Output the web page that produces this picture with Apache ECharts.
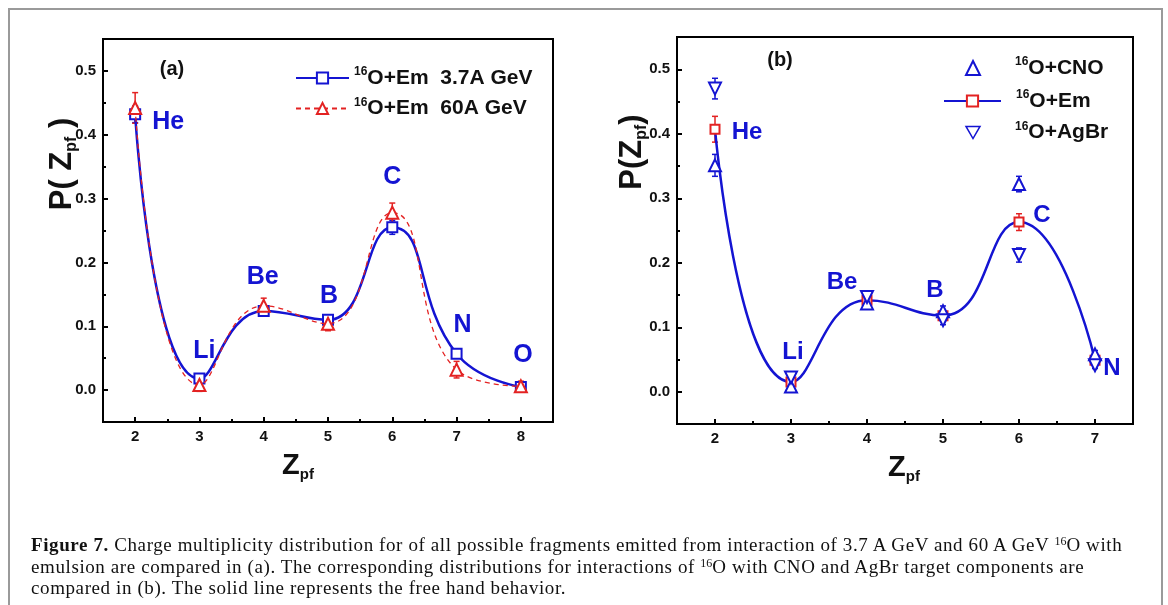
<!DOCTYPE html>
<html>
<head>
<meta charset="utf-8">
<script src="https://cdn.jsdelivr.net/npm/echarts@6/dist/echarts.min.js"></script>
<style>
html, body { margin: 0; padding: 0; background: #fff; }
#wrap { position: relative; width: 1168px; height: 605px; overflow: hidden; }
#frame { position: absolute; left: 8px; top: 8px; width: 1155px; height: 640px; border: 2px solid #9a9a9a; box-sizing: border-box; }
#chart { position: absolute; left: 0; top: 0; width: 1168px; height: 605px; }
#caption { position: absolute; left: 31px; top: 534px; font-family: "Liberation Serif", serif; font-size: 19px; letter-spacing: 0.6px; line-height: 21.5px; color: #111; white-space: nowrap; }
#caption sup { font-size: 12px; vertical-align: 6px; line-height: 0; letter-spacing: 0; }
</style>
</head>
<body>
<div id="wrap">
  <div id="frame"></div>
  <div id="chart"></div>
  <div id="caption"><b>Figure 7.</b> Charge multiplicity distribution for of all possible fragments emitted from interaction of 3.7 A GeV and 60 A GeV <sup>16</sup>O with<br>emulsion are compared in (a). The corresponding distributions for interactions of <sup>16</sup>O with CNO and AgBr target components are<br>compared in (b). The solid line represents the free hand behavior.</div>
</div>
<script>
// panel (a): 16O+Em at two energies
var zA = [2, 3, 4, 5, 6, 7, 8];
var em37 = [0.432, 0.018, 0.124, 0.110, 0.255, 0.057, 0.005];
var em37Err = [0.013, 0.005, 0.008, 0.007, 0.011, 0.003, 0.003];
var em60 = [0.442, 0.008, 0.132, 0.104, 0.278, 0.032, 0.006];
var em60Err = [0.024, 0.010, 0.012, 0.011, 0.015, 0.013, 0.008];
var elemA = ['He', 'Li', 'Be', 'B', 'C', 'N', 'O'];

// panel (b): 16O on CNO, Em, AgBr
var zB = [2, 3, 4, 5, 6, 7];
var cno = [0.351, 0.008, 0.137, 0.125, 0.322, 0.058];
var cnoErr = [0.017, 0.006, 0.007, 0.008, 0.012, 0.006];
var emB = [0.407, 0.015, 0.142, 0.118, 0.263, 0.049];
var emBErr = [0.020, 0.006, 0.006, 0.006, 0.013, 0.004];
var agbr = [0.470, 0.022, 0.147, 0.111, 0.212, 0.041];
var agbrErr = [0.016, 0.006, 0.007, 0.007, 0.011, 0.005];
var elemB = ['He', 'Li', 'Be', 'B', 'C', 'N'];

var yTicks = [0, 0.1, 0.2, 0.3, 0.4, 0.5];
var yMinor = [0.05, 0.15, 0.25, 0.35, 0.45];
var xTicksA = [2, 3, 4, 5, 6, 7, 8];
var xMinorA = [2.5, 3.5, 4.5, 5.5, 6.5, 7.5];
var xTicksB = [2, 3, 4, 5, 6, 7];
var xMinorB = [2.5, 3.5, 4.5, 5.5, 6.5];

var BLUE = '#1414d2';
var RED = '#e32222';
var FONT = '"Liberation Sans", Arial, sans-serif';

function pts(xs, ys) {
    return xs.map(function (x, i) { return [x, ys[i]]; });
}
function errs(xs, ys, es) {
    return xs.map(function (x, i) { return [x, ys[i] - es[i], ys[i] + es[i]]; });
}
function errRender(color) {
    return function (params, api) {
        var x = api.value(0);
        var top = api.coord([x, api.value(2)]);
        var bot = api.coord([x, api.value(1)]);
        var st = { stroke: color, lineWidth: 1.5 };
        return {
            type: 'group',
            children: [
                { type: 'line', shape: { x1: top[0], y1: top[1], x2: bot[0], y2: bot[1] }, style: st },
                { type: 'line', shape: { x1: top[0] - 3, y1: top[1], x2: top[0] + 3, y2: top[1] }, style: st },
                { type: 'line', shape: { x1: bot[0] - 3, y1: bot[1], x2: bot[0] + 3, y2: bot[1] }, style: st }
            ]
        };
    };
}
function errSeries(xi, xs, ys, es, color) {
    return {
        type: 'custom', xAxisIndex: xi, yAxisIndex: xi, z: 2, silent: true,
        renderItem: errRender(color),
        encode: { x: 0, y: [1, 2] },
        data: errs(xs, ys, es)
    };
}
function labelSeries(xi, xs, ys, names, offsets, size) {
    return {
        type: 'scatter', xAxisIndex: xi, yAxisIndex: xi, z: 6, silent: true,
        symbolSize: 1, itemStyle: { color: 'rgba(0,0,0,0)', opacity: 1 },
        label: { show: true, position: 'inside', formatter: '{b}', color: BLUE, fontFamily: FONT, fontWeight: 'bold', fontSize: size, opacity: 1 },
        data: xs.map(function (x, i) {
            return { name: names[i], value: [x, ys[i]], label: { offset: offsets[i] } };
        })
    };
}
function axesPair(grid, pos, min, max, ticks, minor, labels) {
    var main = {
        type: 'value', gridIndex: grid, position: pos, min: min, max: max,
        axisLine: { show: false, onZero: false }, splitLine: { show: false },
        axisTick: { show: true, inside: true, length: 5, customValues: ticks, lineStyle: { color: '#000', width: 2 } },
        axisLabel: {
            show: true, customValues: ticks, margin: 7,
            color: '#111', fontFamily: FONT, fontWeight: 'bold', fontSize: 15,
            formatter: labels
        }
    };
    var sub = {
        type: 'value', gridIndex: grid, position: pos, min: min, max: max,
        axisLine: { show: false, onZero: false }, splitLine: { show: false }, axisLabel: { show: false },
        axisTick: { show: true, inside: true, length: 3, customValues: minor, lineStyle: { color: '#000', width: 2 } }
    };
    return [main, sub];
}
var fmtY = function (v) { return v.toFixed(1); };
var fmtX = function (v) { return String(v); };

function legendRich(pad) {
    return {
        sup: { fontFamily: FONT, fontWeight: 'bold', fontSize: 12, color: '#111', verticalAlign: 'top', lineHeight: 12, padding: [0, 0, 0, pad] },
        t: { fontFamily: FONT, fontWeight: 'bold', fontSize: 21, color: '#111', lineHeight: 24 }
    };
}
var legendFmt = function (name) { return '{sup|16}{t|' + name + '}'; };

var xAxes = axesPair(0, 'bottom', 1.5, 8.5, xTicksA, xMinorA, fmtX)
    .concat(axesPair(1, 'bottom', 1.5, 7.5, xTicksB, xMinorB, fmtX));
var yAxes = axesPair(0, 'left', -0.05, 0.55, yTicks, yMinor, fmtY)
    .concat(axesPair(1, 'left', -0.05, 0.55, yTicks, yMinor, fmtY));
// series use axes 0 (grid a) and 2 (grid b)

function titleText(x, y, rot, main1, sub, main2, size, subSize) {
    return {
        type: 'text', x: x, y: y, rotation: rot, silent: true,
        style: {
            text: '{m|' + main1 + '}{s|' + sub + '}{m|' + main2 + '}',
            align: 'center', verticalAlign: 'middle',
            rich: {
                m: { fontFamily: FONT, fontWeight: 'bold', fontSize: size, lineHeight: size + 4, fill: '#111', verticalAlign: 'middle' },
                s: { fontFamily: FONT, fontWeight: 'bold', fontSize: subSize, lineHeight: 10, fill: '#111', verticalAlign: 'bottom' }
            }
        }
    };
}

var chart = echarts.init(document.getElementById('chart'), null, { renderer: 'canvas' });
chart.setOption({
    animation: false,
    backgroundColor: 'transparent',
    grid: [
        { left: 103, top: 39, width: 450, height: 383, show: true, borderColor: '#000', borderWidth: 2, backgroundColor: 'transparent' },
        { left: 677, top: 37, width: 456, height: 387, show: true, borderColor: '#000', borderWidth: 2, backgroundColor: 'transparent' }
    ],
    xAxis: xAxes,
    yAxis: yAxes,
    legend: [
        {
            orient: 'vertical', left: 295, top: 66, itemWidth: 53, itemHeight: 14, itemGap: 8, padding: 0,
            data: ['O+Em  3.7A GeV', 'O+Em  60A GeV'],
            formatter: legendFmt, textStyle: { rich: legendRich(0) }
        },
        {
            orient: 'vertical', left: 965, top: 56, itemWidth: 14, itemHeight: 14, itemGap: 42, padding: 0,
            data: [
                'O+CNO',
                {
                    name: 'O+AgBr',
                    icon: 'path://M0,0L20,0L10,17.3Z',
                    itemStyle: { color: '#fff', borderColor: BLUE, borderWidth: 1.5 }
                }
            ],
            formatter: legendFmt, textStyle: { rich: legendRich(30) }
        },
        {
            orient: 'vertical', left: 943, top: 89, itemWidth: 57, itemHeight: 14, padding: 0,
            data: ['O+Em'],
            formatter: legendFmt, textStyle: { rich: legendRich(10) }
        }
    ],
    graphic: [
        { type: 'text', x: 172, y: 69, silent: true, style: { text: '(a)', font: 'bold 20px ' + FONT, fill: '#111', align: 'center', verticalAlign: 'middle' } },
        { type: 'text', x: 780, y: 60, silent: true, style: { text: '(b)', font: 'bold 20px ' + FONT, fill: '#111', align: 'center', verticalAlign: 'middle' } },
        titleText(62, 164, Math.PI / 2, 'P( Z', 'pf', ' )', 31, 16),
        titleText(632, 152, Math.PI / 2, 'P(Z', 'pf', ')', 31, 16),
        titleText(298, 466, 0, 'Z', 'pf', '', 29, 15),
        titleText(904, 468, 0, 'Z', 'pf', '', 29, 15)
    ],
    series: [
        errSeries(0, zA, em37, em37Err, BLUE),
        errSeries(0, zA, em60, em60Err, RED),
        {
            name: 'O+Em  3.7A GeV', type: 'line', xAxisIndex: 0, yAxisIndex: 0, z: 3,
            data: pts(zA, em37), smooth: 0.5,
            symbol: 'emptyRect', symbolSize: 10,
            lineStyle: { color: BLUE, width: 2.5 },
            itemStyle: { color: BLUE, borderWidth: 1.5 }
        },
        {
            name: 'O+Em  60A GeV', type: 'line', xAxisIndex: 0, yAxisIndex: 0, z: 4,
            data: pts(zA, em60), smooth: 0.5,
            symbol: 'emptyTriangle', symbolSize: 12,
            lineStyle: { color: RED, width: 1.3, type: [5, 4] },
            itemStyle: { color: RED, borderWidth: 1.5 }
        },
        labelSeries(0, zA, em37, elemA, [[33, 8], [5, -27], [-1, -34], [1, -24], [0, -50], [6, -29], [2, -32]], 25),

        errSeries(2, zB, cno, cnoErr, BLUE),
        errSeries(2, zB, agbr, agbrErr, BLUE),
        errSeries(2, zB, emB, emBErr, RED),
        {
            name: 'O+Em', type: 'line', xAxisIndex: 2, yAxisIndex: 2, z: 3,
            data: pts(zB, emB), smooth: 0.5,
            symbol: 'emptyRect', symbolSize: 9,
            lineStyle: { color: BLUE, width: 2.5 },
            itemStyle: { color: RED, borderWidth: 1.5 }
        },
        {
            name: 'O+CNO', type: 'scatter', xAxisIndex: 2, yAxisIndex: 2, z: 4,
            data: pts(zB, cno), symbol: 'emptyTriangle', symbolSize: 12, symbolKeepAspect: true,
            itemStyle: { color: BLUE, borderWidth: 1.5, opacity: 1 }
        },
        {
            name: 'O+AgBr', type: 'scatter', xAxisIndex: 2, yAxisIndex: 2, z: 4,
            data: pts(zB, agbr), symbol: 'emptyTriangle', symbolSize: 12, symbolRotate: 180, symbolKeepAspect: true,
            itemStyle: { color: BLUE, borderWidth: 1.5, opacity: 1 }
        },
        labelSeries(2, zB, emB, elemB, [[32, 3], [2, -30], [-25, -18], [-8, -25], [23, -7], [17, 8]], 24)
    ]
});
</script>
</body>
</html>
